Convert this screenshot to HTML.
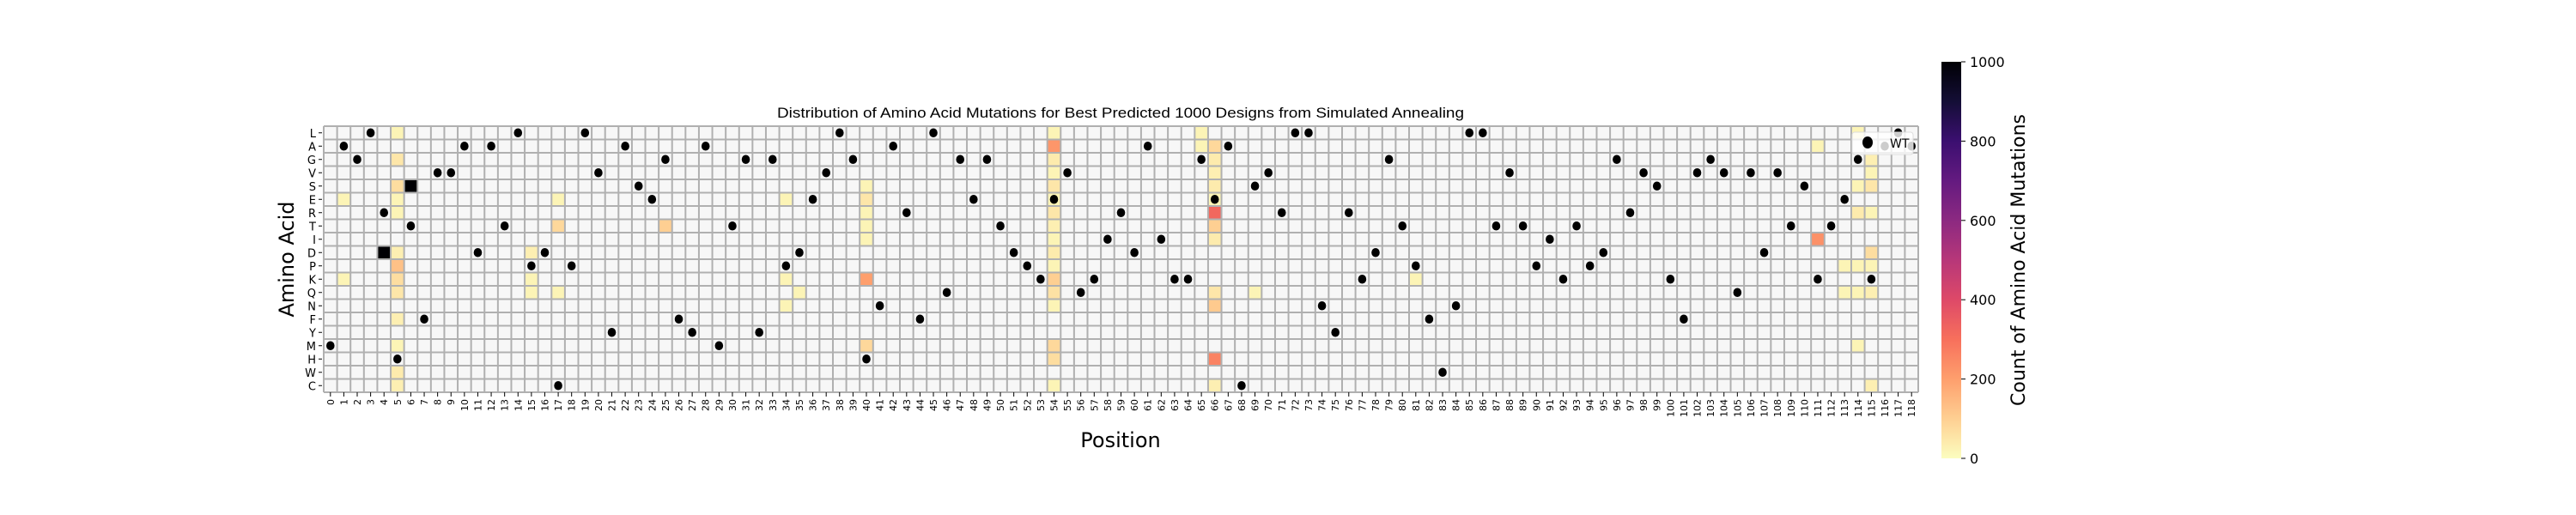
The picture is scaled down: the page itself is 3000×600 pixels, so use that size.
<!DOCTYPE html>
<html><head><meta charset="utf-8">
<style>
html,body{margin:0;padding:0;background:#fff;}
svg{display:block;font-family:"DejaVu Sans","Liberation Sans",sans-serif;}
</style></head>
<body>
<svg id="chart" width="3000" height="600" viewBox="0 0 3000 600" xmlns="http://www.w3.org/2000/svg">
<defs>
<linearGradient id="magmaR" x1="0" y1="1" x2="0" y2="0">
<stop offset="0" stop-color="#fcfdbf"/><stop offset="0.1" stop-color="#fecf92"/><stop offset="0.2" stop-color="#fe9f6d"/><stop offset="0.3" stop-color="#f7705c"/><stop offset="0.4" stop-color="#de4968"/><stop offset="0.5" stop-color="#b73779"/><stop offset="0.6" stop-color="#8c2981"/><stop offset="0.7" stop-color="#641a80"/><stop offset="0.8" stop-color="#3b0f70"/><stop offset="0.9" stop-color="#140e36"/><stop offset="1" stop-color="#000004"/>
</linearGradient>
</defs>
<g id="cells"></g><g id="dots"></g><g id="axes"></g>
<text x="1305" y="137" text-anchor="middle" font-family="Liberation Sans, sans-serif" font-size="17" textLength="800" lengthAdjust="spacingAndGlyphs">Distribution of Amino Acid Mutations for Best Predicted 1000 Designs from Simulated Annealing</text>
<text x="1305" y="521" text-anchor="middle" font-size="24">Position</text>
<text transform="translate(342,302) rotate(-90)" text-anchor="middle" font-size="24">Amino Acid</text>
<rect x="2261" y="72" width="23" height="462" fill="url(#magmaR)"/>
<g id="cbticks"></g>
<text transform="translate(2358,303) rotate(-90)" text-anchor="middle" font-size="22">Count of Amino Acid Mutations</text>
<g>
<rect x="2157" y="154" width="71" height="26" rx="3" fill="#ffffff" fill-opacity="0.8" stroke="#dddddd"/>
<ellipse cx="2175" cy="166" rx="6" ry="7" fill="#000"/>
<text x="2201" y="172" font-size="14">WT</text>
</g>
</svg>
<script>
const aminoAcids = ["L","A","G","V","S","E","R","T","I","D","P","K","Q","N","F","Y","M","H","W","C"];
const positions = Array.from({length:119},(_,i)=>i);
const wildType = ["M","A","G","L","R","H","T","F","V","V","A","D","A","T","L","P","D","C","P","L",
"V","Y","A","S","E","G","F","Y","A","M","T","G","Y","G","P","D","E","V","L","G",
"H","N","A","R","F","L","Q","G","E","G","T","D","P","K","E","V","Q","K","I","R",
"D","A","I","K","K","G","E","A","C","S","V","R","L","L","N","Y","R","K","D","G",
"T","P","F","W","N","L","L","T","V","T","P","I","K","T","P","D","G","R","V","S",
"K","F","V","G","V","Q","V","D","V","T","S","K","T","E","G","K","A","L","A"];
const mutPos = [1,1,4,5,5,5,5,5,5,5,5,5,5,5,5,5,6,15,15,15,17,17,17,25,34,34,34,35,
40,40,40,40,40,40,40,54,54,54,54,54,54,54,54,54,54,54,54,54,54,54,54,54,65,65,
66,66,66,66,66,66,66,66,66,66,66,66,69,81,111,111,113,113,114,114,114,114,114,114,
115,115,115,115,115,115,115,115];
const mutAA = ["E","K","D","L","G","S","E","R","D","P","K","Q","F","M","W","C","S","D","K","Q","E","T","Q","T","E","K","N","Q",
"S","E","R","T","I","K","M","L","A","G","V","S","E","R","T","I","D","P","K","Q","N","M","H","C","L","A",
"A","G","V","S","E","R","T","I","Q","N","H","C","Q","K","A","I","P","Q","L","S","R","P","Q","M",
"G","V","S","R","D","P","Q","C"];
const mutCount = [20,20,1000,20,50,70,20,20,30,130,70,50,30,20,40,30,1000,30,20,20,20,80,20,100,20,20,20,20,
20,50,20,20,20,200,80,20,220,40,20,50,20,50,30,20,40,20,100,60,20,80,70,20,20,20,
80,40,30,40,20,320,100,40,50,110,260,30,20,20,20,230,20,20,20,20,40,20,20,20,
30,20,50,20,70,20,30,30];
const cbTicks = [0,200,400,600,800,1000];

const NS="http://www.w3.org/2000/svg";
const X0=377, X1=2234, Y0=147, Y1=457;
const cw=(X1-X0)/positions.length, ch=(Y1-Y0)/aminoAcids.length;
const xAt=p=>X0+p*cw, yAt=a=>Y0+aminoAcids.indexOf(a)*ch;
const stops=[[0,[252,253,191]],[0.1,[254,207,146]],[0.2,[254,159,109]],[0.3,[247,112,92]],[0.4,[222,73,104]],[0.5,[183,55,121]],[0.6,[140,41,129]],[0.7,[100,26,128]],[0.8,[59,15,112]],[0.9,[20,14,54]],[1,[0,0,4]]];
function color(v){const t=Math.min(1,Math.max(0,v/1000));for(let i=1;i<stops.length;i++){if(t<=stops[i][0]){const a=stops[i-1],b=stops[i],f=(t-a[0])/(b[0]-a[0]);return 'rgb('+a[1].map((c,k)=>Math.round(c+(b[1][k]-c)*f)).join(',')+')';}}return 'rgb(0,0,4)';}
function mk(tag,attrs,parent){const e=document.createElementNS(NS,tag);for(const k in attrs)e.setAttribute(k,attrs[k]);parent.appendChild(e);return e;}
const cells=document.getElementById('cells'),dots=document.getElementById('dots'),axes=document.getElementById('axes'),cbt=document.getElementById('cbticks');
const bg=mk('rect',{x:X0,y:Y0,width:X1-X0,height:Y1-Y0,fill:'#f7f7f7'},cells);


mutPos.forEach((p,i)=>{
 const r=mk('rect',{x:xAt(p),y:yAt(mutAA[i]),width:cw,height:ch,fill:color(mutCount[i])},cells);
 
 
});
for(let i=0;i<=positions.length;i++){const l=mk('line',{x1:xAt(i),x2:xAt(i),y1:Y0,y2:Y1,stroke:'#b0b0b0','stroke-width':2},cells);
 
 }
for(let j=0;j<=aminoAcids.length;j++){const l=mk('line',{x1:X0,x2:X1,y1:Y0+j*ch,y2:Y0+j*ch,stroke:'#b0b0b0','stroke-width':2},cells);
 
 }
wildType.forEach((a,p)=>{
 const d=mk('ellipse',{cx:xAt(p)+cw/2,cy:yAt(a)+ch/2,rx:4.8,ry:5.3,fill:'#000'},dots);
 
 
});
aminoAcids.forEach((a,j)=>{
 const y=Y0+(j+0.5)*ch;
 const t=mk('line',{x1:X0-6,x2:X0-2,y1:y,y2:y,stroke:'#000','stroke-width':1},axes);
 
 
 const tx=mk('text',{x:X0-9,y:y+5,'text-anchor':'end','font-size':13},axes);tx.textContent=a;
 
 
});
positions.forEach(p=>{
 const x=xAt(p)+cw/2;
 const t=mk('line',{x1:x,x2:x,y1:Y1,y2:Y1+5,stroke:'#000','stroke-width':1},axes);
 
 
 const tx=mk('text',{transform:`translate(${x+4},${Y1+8}) rotate(-90)`,'text-anchor':'end','font-size':11},axes);tx.textContent=p;
 
 
});
cbTicks.forEach(v=>{
 const y=534-v/1000*462;
 const t=mk('line',{x1:2284,x2:2289,y1:y,y2:y,stroke:'#000','stroke-width':1},cbt);
 
 
 const tx=mk('text',{x:2294,y:y+6,'font-size':16},cbt);tx.textContent=v;
 
 
});
</script>
</body></html>
